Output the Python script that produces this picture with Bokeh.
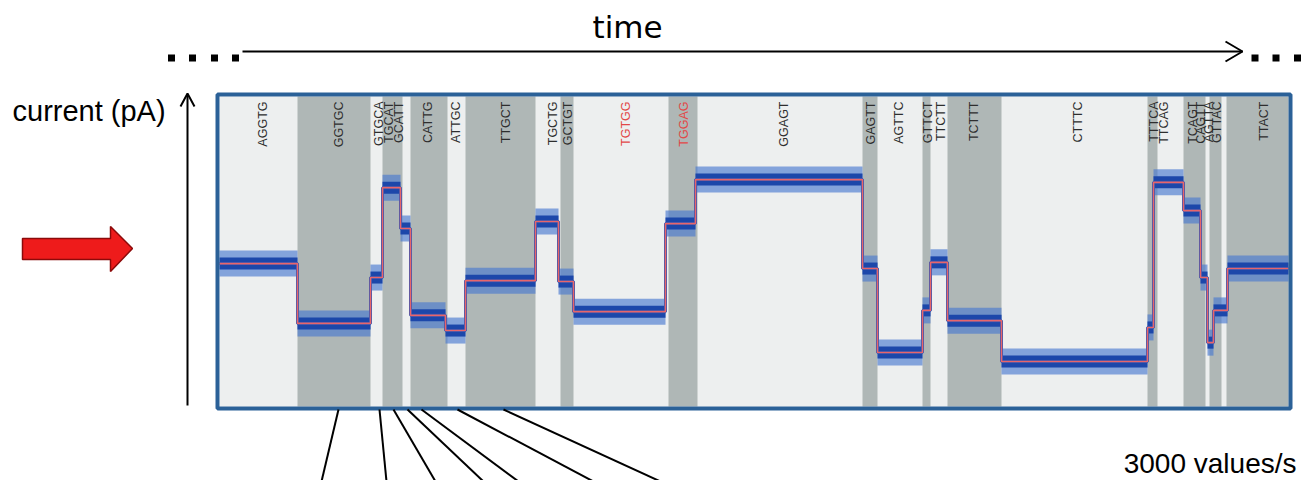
import math
from bokeh.plotting import figure
from bokeh.models import Range1d
from bokeh.core.properties import value
from bokeh.embed import file_html
from bokeh.resources import INLINE

# ---------------- data (time in ms, current in pA) ----------------
seg_bounds = [0, 78, 151, 163, 181, 191, 226, 246, 316, 339, 354, 446, 476,
              643, 658, 703, 711, 728, 782, 928, 934, 964, 981, 988, 994, 1008, 1069]
seg_levels = [66.1, 46.8, 61.6, 90.6, 77.4, 49.4, 44.5, 60.6, 79.7, 60.3, 50.6, 79.0, 93.2,
              64.5, 37.4, 51.0, 66.5, 47.7, 34.5, 45.5, 92.3, 83.2, 61.6, 40.6, 51.0, 64.5]

dark_left = [78, 163, 191, 246, 341, 449, 643, 703, 728, 928, 964, 990, 1007]
dark_right = [151, 183, 228, 316, 354, 478, 658, 711, 782, 938, 986, 1002, 1069]

kmer_labels = ["AGGTG", "GGTGC", "GTGCA", "TGCAT", "GCATT", "CATTG", "ATTGC", "TTGCT",
               "TGCTG", "GCTGT", "TGTGG", "TGGAG", "GGAGT", "GAGTT", "AGTTC", "GTTCT",
               "TTCTT", "TCTTT", "CTTTC", "TTTCA", "TTCAG", "TCAGT", "CAGTT", "AGTTA",
               "GTTAC", "TTACT"]
kmer_pos = [43, 119, 159, 169, 179, 208, 236, 286, 333, 348, 406, 464, 564, 651, 679, 708,
            721, 754, 858, 934, 944, 973, 981, 989, 997, 1044]
kmer_red = ["TGTGG", "TGGAG"]

panel_t = [0, 1069]
panel_pA = [20, 120]

# ---------------- layout helpers (page pixel -> data) ----------------
PX_PER_PA = 3.1
def X(px):
    return px - 219
def Y(py):
    return 20 + (406 - py) / PX_PER_PA

W, H = 1301, 480
p = figure(width=W, height=H, x_range=Range1d(X(0), X(W)), y_range=Range1d(Y(H), Y(0)),
           x_axis_type=None, y_axis_type=None, toolbar_location=None,
           output_backend="svg", min_border=0, outline_line_color=None,
           background_fill_color="white", border_fill_color="white")
p.grid.visible = False

# panel background
p.quad(left=[panel_t[0]], right=[panel_t[1]], bottom=[panel_pA[0]], top=[panel_pA[1]],
       fill_color="#edefef", line_color=None)
# dark bands
p.quad(left=dark_left, right=dark_right, bottom=[panel_pA[0]] * len(dark_left),
       top=[panel_pA[1]] * len(dark_left), fill_color="#afb7b6", line_color=None)

# labels
lab_col = ["#e24848" if k in kmer_red else "#2e2e2e" for k in kmer_labels]
p.text(x=kmer_pos, y=[Y(101)] * len(kmer_pos), text=kmer_labels, angle=math.pi / 2,
       text_align="right", text_baseline="middle", text_font=value("Liberation Sans"),
       text_font_size="12.5px", text_color=lab_col)

# signal: noisy blue band around each level
starts = seg_bounds[:-1]
ends = seg_bounds[1:]
outer = 13 / PX_PER_PA
inner = 6 / PX_PER_PA
p.quad(left=starts, right=ends, bottom=[v - outer for v in seg_levels],
       top=[v + outer for v in seg_levels], fill_color="#4a7ad0", fill_alpha=0.65, line_color=None)
p.quad(left=starts, right=ends, bottom=[v - inner for v in seg_levels],
       top=[v + inner for v in seg_levels], fill_color="#1c47aa", line_color=None)
step_x = seg_bounds
step_y = seg_levels + [seg_levels[-1]]
p.step(x=step_x, y=step_y, mode="after", line_color="#2a55b8", line_width=3)
p.step(x=step_x, y=step_y, mode="after", line_color="#e8656a", line_width=1.6)

# panel frame
p.quad(left=[X(217)], right=[X(1290)], bottom=[Y(408)], top=[Y(94)], fill_color=None,
       line_color="#2b6198", line_width=4)

# ---- decorations ----
font = value("Liberation Sans")
p.text(x=[X(627)], y=[Y(26)], text=["time"], text_align="center", text_baseline="middle",
       text_font=value("DejaVu Sans"), text_font_size="31px", text_color="black")
p.text(x=[X(12)], y=[Y(110)], text=["current (pA)"], text_align="left", text_baseline="middle",
       text_font=font, text_font_size="29px", text_color="black")
p.text(x=[X(1296)], y=[Y(463)], text=["3000 values/s"], text_align="right",
       text_baseline="middle", text_font=font, text_font_size="28px", text_color="black")

# time arrow
p.line(x=[X(242), X(1242)], y=[Y(51), Y(51)], line_color="black", line_width=2)
p.line(x=[X(1225), X(1242), X(1225)], y=[Y(41), Y(51), Y(61)], line_color="black", line_width=2)
p.scatter(x=[X(171), X(192), X(214), X(235)], y=[Y(57.5)] * 4, marker="square", size=7,
          fill_color="black", line_color=None)
p.scatter(x=[X(1254.5), X(1275.5), X(1297)], y=[Y(57.5)] * 3, marker="square", size=7,
          fill_color="black", line_color=None)

# current arrow
p.line(x=[X(187), X(187)], y=[Y(405), Y(94)], line_color="black", line_width=2)
p.line(x=[X(180), X(187), X(194)], y=[Y(106), Y(93), Y(106)], line_color="black", line_width=2)

# red block arrow
rx = [22, 110, 110, 132, 110, 110, 22]
ry = [238, 238, 226, 248, 271, 259, 259]
p.patch(x=[X(v) for v in rx], y=[Y(v) for v in ry], fill_color="#ee1b1b",
        line_color="#8c0a0a", line_width=1.5)

# zoom lines below the panel
top_px = [338, 379, 393, 407, 421, 457, 503]
bot_px = [321, 386, 435, 483, 518, 593, 660]
p.segment(x0=[X(v) for v in top_px], y0=[Y(409)] * 7, x1=[X(v) for v in bot_px],
          y1=[Y(481)] * 7, line_color="black", line_width=2)

open("out.html", "w").write(file_html(p, INLINE))
